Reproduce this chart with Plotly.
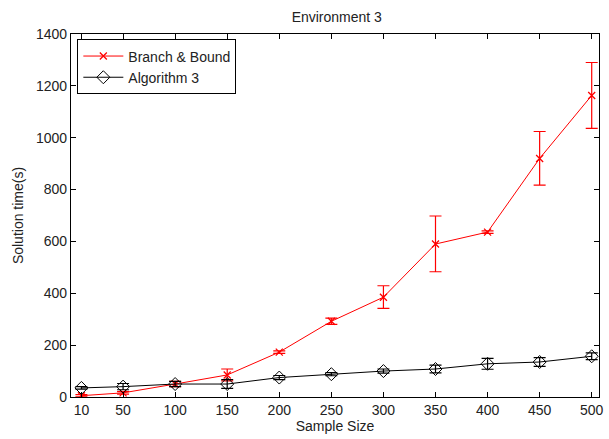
import plotly.graph_objects as go

sample_sizes = [10, 50, 100, 150, 200, 250, 300, 350, 400, 450, 500]

bb_mean = [5, 16, 50, 85, 173, 292, 385, 590, 636, 920, 1163]
bb_err_plus = [4, 5, 10, 23, 5, 12, 44, 108, 5, 104, 127]
bb_err_minus = [4, 5, 10, 23, 5, 12, 43, 107, 5, 103, 127]

alg_mean = [35, 40, 50, 50, 75, 88, 100, 108, 128, 135, 157]
alg_err = [5, 12, 10, 17, 8, 6, 8, 15, 21, 17, 13]

x_ticks = [10, 50, 100, 150, 200, 250, 300, 350, 400, 450, 500]
y_ticks = [0, 200, 400, 600, 800, 1000, 1200, 1400]

font = "Liberation Sans, Arial, Helvetica, sans-serif"

fig = go.Figure()
fig.add_trace(go.Scatter(
    x=sample_sizes, y=bb_mean, name="Branch & Bound",
    mode="lines+markers",
    line=dict(color="#ff0000", width=1),
    marker=dict(symbol="x-thin", size=7, line=dict(color="#ff0000", width=1.3)),
    error_y=dict(type="data", array=bb_err_plus, arrayminus=bb_err_minus,
                 color="#ff0000", thickness=1.2, width=6),
))
fig.add_trace(go.Scatter(
    x=sample_sizes, y=alg_mean, name="Algorithm 3",
    mode="lines+markers",
    line=dict(color="#000000", width=1),
    marker=dict(symbol="diamond-open", size=10, color="#000000",
                line=dict(color="#000000", width=1)),
    error_y=dict(type="data", array=alg_err, color="#000000",
                 thickness=1.2, width=6),
))

axis_common = dict(
    showgrid=False, zeroline=False, showline=True, linecolor="black",
    linewidth=1.3, mirror="ticks", ticks="inside", ticklen=5,
    tickcolor="black", tickfont=dict(size=14, color="#222", family=font),
)
fig.update_xaxes(range=[0, 507], tickvals=x_ticks, ticktext=[str(v) for v in x_ticks],
                 title=dict(text="Sample Size", font=dict(size=14, family=font, color="#222"),
                            standoff=3),
                 **axis_common)
fig.update_yaxes(range=[0, 1400], tickvals=y_ticks,
                 title=dict(text="Solution time(s)", font=dict(size=14, family=font, color="#222"),
                            standoff=8),
                 **axis_common)

fig.update_layout(
    width=609, height=439,
    margin=dict(l=71, r=5, t=34, b=42),
    paper_bgcolor="white", plot_bgcolor="white",
    title=dict(text="Environment 3", x=0.553, xanchor="center", y=0.962, yanchor="middle",
               font=dict(size=14, family=font, color="#222")),
    legend=dict(x=0.012, y=0.985, xanchor="left", yanchor="top",
                bordercolor="black", borderwidth=1, bgcolor="white",
                font=dict(size=14, family=font, color="#222"),
                tracegroupgap=0, itemwidth=40),
    showlegend=True,
)

fig.write_html("out.html")
